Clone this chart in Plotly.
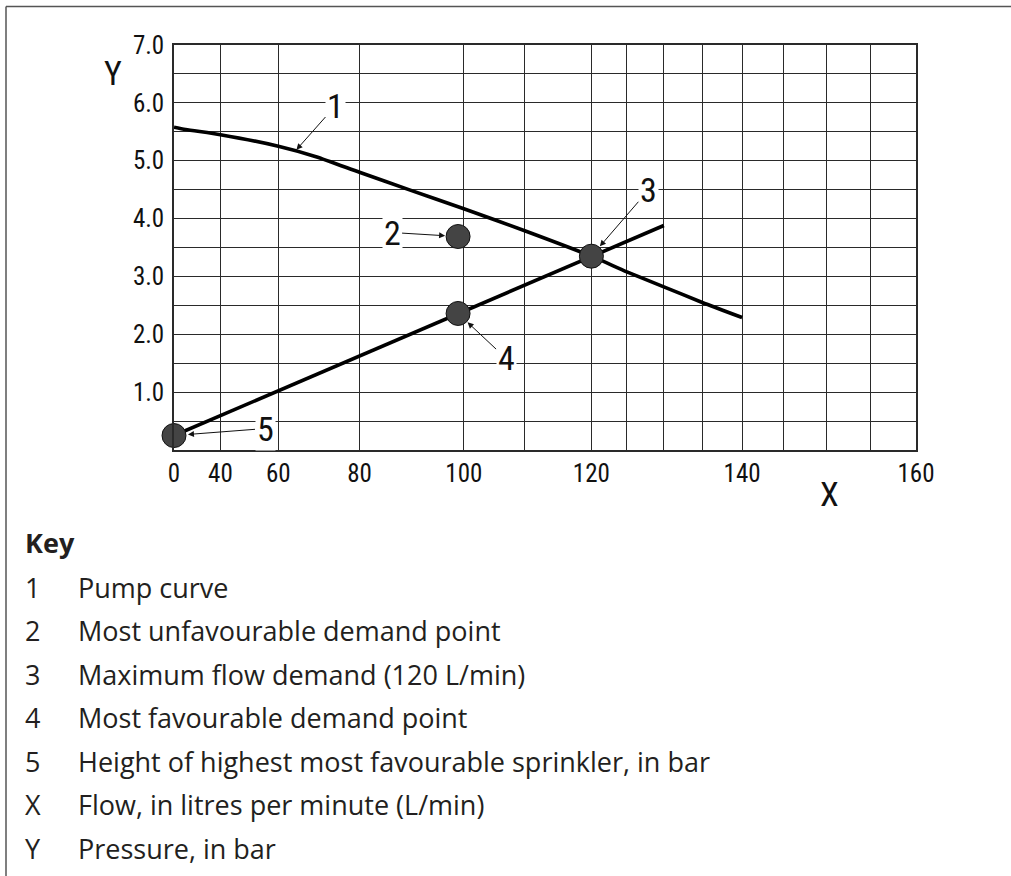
import plotly.graph_objects as go

# ---------------- data ----------------
# Flow values (L/min) and pressure (bar)
pump_flow = [0, 20, 40, 60, 70, 80, 90, 100, 110, 120, 125, 130, 135, 140]
pump_pressure = [5.58, 5.54, 5.45, 5.25, 5.07, 4.80, 4.50, 4.17, 3.79, 3.35, 3.08, 2.82, 2.55, 2.29]

demand_flow = [0, 130]
demand_pressure = [0.25, 3.88]

point_labels = ["2", "3", "4", "5"]
point_flow = [99, 120, 99, 0]
point_pressure = [3.69, 3.35, 2.36, 0.25]

x_grid_values = [0, 40, 60, 80, 100, 110, 120, 125, 130, 135, 140, 145, 150, 155, 160]
x_tick_labels = {0: "0", 40: "40", 60: "60", 80: "80", 100: "100", 120: "120", 140: "140", 160: "160"}
y_grid_values = [0, 0.5, 1, 1.5, 2, 2.5, 3, 3.5, 4, 4.5, 5, 5.5, 6, 6.5, 7]
y_tick_labels = {1: "1.0", 2: "2.0", 3: "3.0", 4: "4.0", 5: "5.0", 6: "6.0", 7: "7.0"}

key_codes = ["1", "2", "3", "4", "5", "X", "Y"]
key_texts = [
    "Pump curve",
    "Most unfavourable demand point",
    "Maximum flow demand (120 L/min)",
    "Most favourable demand point",
    "Height of highest most favourable sprinkler, in bar",
    "Flow, in litres per minute (L/min)",
    "Pressure, in bar",
]

# The flow axis of this graph paper is a square-law (Q^2) scale
def sq(values):
    return [v * v for v in values]

TECH_FONT = "Liberation Sans Narrow, Roboto Condensed, DejaVu Sans Condensed, sans-serif"
KEY_FONT = "Open Sans, Noto Sans, sans-serif"
INK = "#111111"
KEY_INK = "#231f20"
GRID = "#2a2a2a"

W, H = 1011, 876
L, R, T, B = 174, 95, 45, 426
PW, PH = W - L - R, H - T - B


def px_to_paper(px, py):
    return (px - L) / PW, (H - B - py) / PH


fig = go.Figure()

fig.add_trace(go.Scatter(
    x=sq(pump_flow), y=pump_pressure, mode="lines",
    line=dict(color="black", width=3.6, shape="spline", smoothing=0.6),
    hoverinfo="skip", showlegend=False,
))
fig.add_trace(go.Scatter(
    x=sq(demand_flow), y=demand_pressure, mode="lines",
    line=dict(color="black", width=3.6),
    hoverinfo="skip", showlegend=False,
))
fig.add_trace(go.Scatter(
    x=sq(point_flow), y=point_pressure, mode="markers",
    marker=dict(size=24, color="#444444", line=dict(color="#111111", width=1)),
    cliponaxis=False, hoverinfo="skip", showlegend=False,
))

# callouts: (label, flow, pressure, ax, ay, standoff)
callouts = [
    ("1", 65, 5.19, 39, -44, 0),
    ("2", point_flow[0], point_pressure[0], -66, -4, 13),
    ("3", point_flow[1], point_pressure[1], 57, -66, 13),
    ("4", point_flow[2], point_pressure[2], 48, 45, 13),
    ("5", point_flow[3], point_pressure[3], 91, -7, 14),
]
annotations = []
for lab, fx, fy, ax, ay, so in callouts:
    annotations.append(dict(
        x=fx * fx, y=fy, xref="x", yref="y", text=lab,
        showarrow=True, ax=ax, ay=ay, axref="pixel", ayref="pixel",
        arrowhead=2, arrowsize=1.2, arrowwidth=1, arrowcolor=INK,
        standoff=so, startstandoff=0,
        font=dict(family=TECH_FONT, size=34, color=INK),
        bgcolor="white", borderpad=1,
    ))

# axis letters
for txt, (px, py) in [("Y", (113, 73)), ("X", (829, 494))]:
    xp, yp = px_to_paper(px, py)
    annotations.append(dict(
        x=xp, y=yp, xref="paper", yref="paper", text=txt, showarrow=False,
        xanchor="center", yanchor="middle",
        font=dict(family=TECH_FONT, size=34, color=INK),
    ))

# key
KEY_SIZE = 27
xp, yp = px_to_paper(23, 542)
annotations.append(dict(
    x=xp, y=yp, xref="paper", yref="paper", text="<b>Key</b>", showarrow=False,
    xanchor="left", yanchor="middle",
    font=dict(family=KEY_FONT, size=KEY_SIZE, color=KEY_INK),
))
row_y0, row_dy = 587, 43.5
for i, (code, txt) in enumerate(zip(key_codes, key_texts)):
    yy = row_y0 + i * row_dy
    xp, yp = px_to_paper(23, yy)
    annotations.append(dict(
        x=xp, y=yp, xref="paper", yref="paper", text=code, showarrow=False,
        xanchor="left", yanchor="middle",
        font=dict(family=KEY_FONT, size=KEY_SIZE, color=KEY_INK),
    ))
    xp, yp = px_to_paper(76, yy)
    annotations.append(dict(
        x=xp, y=yp, xref="paper", yref="paper", text=txt, showarrow=False,
        xanchor="left", yanchor="middle",
        font=dict(family=KEY_FONT, size=KEY_SIZE, color=KEY_INK),
    ))

# page frame (top and left edges)
fx0, fy0 = px_to_paper(6, 6.5)
fx1, fy1 = px_to_paper(W + 5, H + 5)
shapes = [
    dict(type="line", xref="paper", yref="paper", x0=fx0, y0=fy0, x1=fx1, y1=fy0,
         line=dict(color="#555555", width=1.5)),
    dict(type="line", xref="paper", yref="paper", x0=fx0, y0=fy0, x1=fx0, y1=fy1,
         line=dict(color="#555555", width=1.5)),
]

fig.update_layout(
    width=W, height=H,
    margin=dict(l=L, r=R, t=T, b=B, pad=0),
    paper_bgcolor="white", plot_bgcolor="white",
    annotations=annotations, shapes=shapes,
    xaxis=dict(
        range=[0, 160 * 160],
        tickmode="array",
        tickvals=sq(x_grid_values),
        ticktext=[x_tick_labels.get(v, "") for v in x_grid_values],
        showgrid=True, gridcolor=GRID, gridwidth=1.3,
        zeroline=False, showline=True, linecolor=GRID, linewidth=1.6, mirror=True,
        ticks="",
        tickfont=dict(family=TECH_FONT, size=25, color=INK),
        fixedrange=True,
    ),
    yaxis=dict(
        range=[0, 7],
        tickmode="array",
        tickvals=y_grid_values,
        ticktext=[y_tick_labels.get(v, "") for v in y_grid_values],
        showgrid=True, gridcolor=GRID, gridwidth=1.3,
        zeroline=False, showline=True, linecolor=GRID, linewidth=1.6, mirror=True,
        ticks="outside", ticklen=3, tickcolor="rgba(0,0,0,0)",
        tickfont=dict(family=TECH_FONT, size=25, color=INK),
        fixedrange=True,
    ),
)

fig.write_html(
    "out.html",
    config={"displayModeBar": False},
    post_script="document.body.style.margin='0';document.body.style.overflow='hidden';",
)
